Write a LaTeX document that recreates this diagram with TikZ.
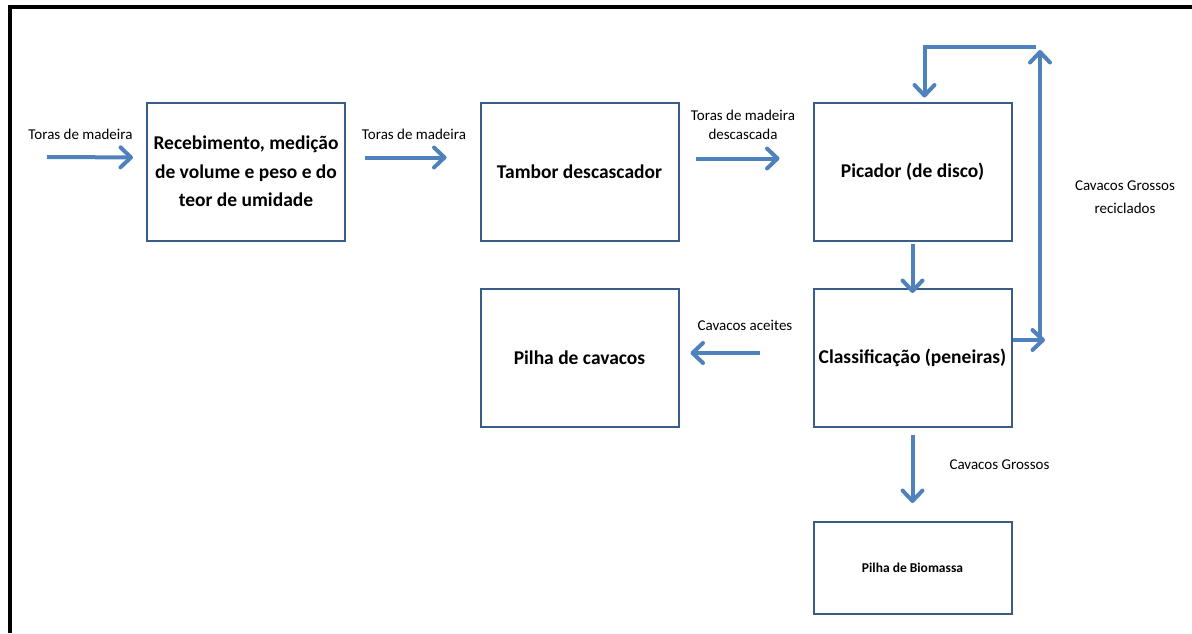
\documentclass[tikz,border=0pt]{standalone}
\usepackage{fontspec}
\setmainfont{Carlito}
\usetikzlibrary{arrows.meta}
\definecolor{boxblue}{HTML}{385D8A}
\definecolor{flowblue}{HTML}{4F81BD}
\begin{document}
\begin{tikzpicture}[x=1pt,y=-1pt,
  stage/.style={draw=boxblue, line width=2pt, minimum width=198pt, minimum height=138pt,
    align=center, inner sep=0pt, font=\fontsize{19.5}{28.5}\selectfont\bfseries},
  flow/.style={draw=flowblue, line width=4pt,
    -{Straight Barb[length=10.5pt,width=20pt,line cap=round,line join=round]}},
  lbl/.style={align=center, inner sep=0pt, font=\fontsize{15}{22}\selectfont}]
\useasboundingbox (0,0) rectangle (1192,633);

% frame
\draw[line width=4.5pt] (1192,7) -- (10,7) -- (10,633);

% process stages
\node[stage] (b1) at (246,171.5) {Recebimento, medição\\de volume e peso e do\\teor de umidade};
\node[stage] (b2) at (579.5,171.5) {Tambor descascador};
\node[stage] (b3) at (912.5,171.5) {Picador (de disco)};
\node[stage] (b4) at (579.5,358) {Pilha de cavacos};
\node[stage] (b5) at (912.5,358) {Classificação (peneiras)};
\node[stage, minimum height=92pt, font=\fontsize{13.5}{16}\selectfont\bfseries] (b6) at (912.5,568) {Pilha de Biomassa};

% free ends
\coordinate (in) at (47,157);
\coordinate (r1) at (1045,340);
\coordinate (r2) at (1040,337);
\coordinate (r3) at (1040,50);
\coordinate (r4) at (1036,47);

% main flow
\draw[flow, shorten >=13pt] (in) -- ([yshift=14pt]b1.west);
\draw[flow, shorten <=19pt, shorten >=33pt] ([yshift=14pt]b1.east) -- ([yshift=14pt]b2.west);
\draw[flow, shorten <=16pt, shorten >=33pt] ([yshift=13pt]b2.east) -- ([yshift=13pt]b3.west);
\draw[flow, shorten <=2pt, shorten >=-5pt] (b3.south) -- (b5.north);
\draw[flow, shorten <=53pt, shorten >=11pt] ([yshift=5pt]b5.west) -- ([yshift=5pt]b4.east);
\draw[flow, shorten <=7pt, shorten >=18pt] (b5.south) -- (b6.north);

% recycle loop
\draw[flow] ([yshift=18pt]b5.east) -- (r1);
\draw[flow] (r2) -- (r3);
\draw[flow, shorten >=4pt] (r4) -| ([xshift=12pt]b3.north);

% labels
\node[lbl] at (80.5,134) {Toras de madeira};
\node[lbl] at (414,134) {Toras de madeira};
\node[lbl, font=\fontsize{15}{19}\selectfont] at (743,125) {Toras de madeira\\descascada};
\node[lbl, font=\fontsize{15}{23}\selectfont] at (1125,197) {Cavacos Grossos\\reciclados};
\node[lbl] at (745,325) {Cavacos aceites};
\node[lbl] at (999.5,465) {Cavacos Grossos};
\end{tikzpicture}
\end{document}
